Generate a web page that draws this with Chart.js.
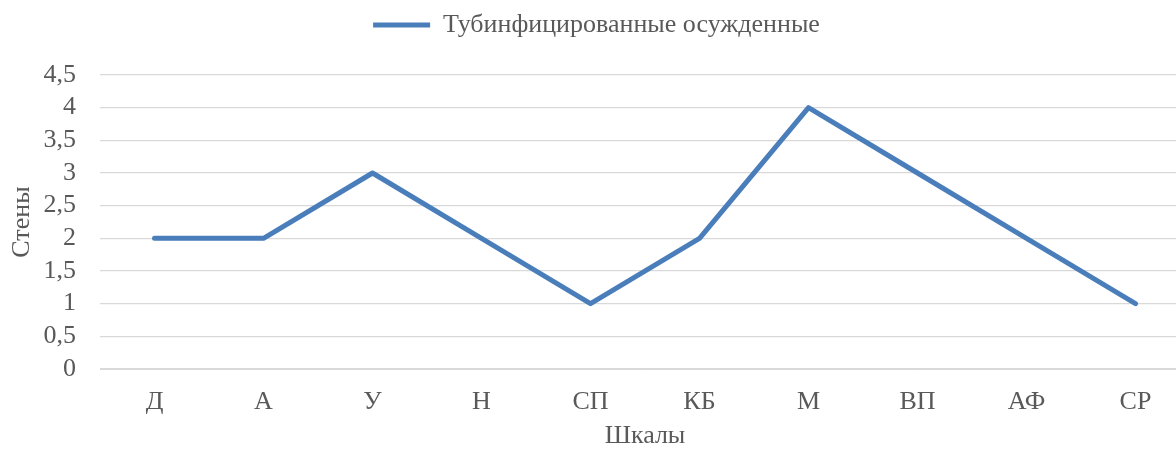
<!DOCTYPE html>
<html>
<head>
<meta charset="utf-8">
<script src="https://cdn.jsdelivr.net/npm/chart.js@4"></script>
<style>
  html, body { margin: 0; padding: 0; background: #fff; }
  #wrap { width: 1176px; height: 449px; overflow: hidden; }
  #box { width: 1196px; height: 449px; }
</style>
</head>
<body>
<div id="wrap"><div id="box"><canvas id="chart"></canvas></div></div>
<script>
// Данные графика
const categories = ['Д', 'А', 'У', 'Н', 'СП', 'КБ', 'М', 'ВП', 'АФ', 'СР'];
const seriesName = 'Тубинфицированные осужденные';
const seriesValues = [2, 2, 3, 2, 1, 2, 4, 3, 2, 1];
const yMax = 4.5;
const yStep = 0.5;

const font = 'Liberation Serif';
const textColor = '#595959';
const fontSize = 26;

// Немного больше места под легендой
const legendSpace = {
    id: 'legendSpace',
    beforeInit(chart) {
        const fit = chart.legend.fit;
        chart.legend.fit = function () {
            fit.call(this);
            this.height += 27;
        };
    }
};

const ctx = document.getElementById('chart').getContext('2d');
const chart = new Chart(ctx, {
    type: 'line',
    data: {
        labels: categories,
        datasets: [{
            label: seriesName,
            data: seriesValues,
            borderColor: '#4a7ebb',
            backgroundColor: '#4a7ebb',
            borderWidth: 5,
            borderCapStyle: 'round',
            borderJoinStyle: 'round',
            pointRadius: 0,
            tension: 0
        }]
    },
    options: {
        responsive: true,
        maintainAspectRatio: false,
        animation: false,
        layout: { padding: { top: 0, left: 3, right: 6, bottom: 0 } },
        plugins: {
            legend: {
                position: 'top',
                labels: {
                    usePointStyle: true,
                    pointStyle: 'line',
                    pointStyleWidth: 57,
                    color: textColor,
                    font: { family: font, size: fontSize, lineHeight: 1 },
                    padding: 12
                }
            },
            tooltip: { enabled: false }
        },
        scales: {
            x: {
                offset: true,
                grid: { display: false },
                border: { color: '#d9d9d9' },
                ticks: { color: textColor, font: { family: font, size: fontSize, lineHeight: 1 }, padding: 12 },
                title: {
                    display: true,
                    text: 'Шкалы',
                    color: textColor,
                    font: { family: font, size: fontSize, lineHeight: 1 },
                    padding: { top: 0, bottom: 0 }
                },
                afterFit: axis => { axis.height = 80; }
            },
            y: {
                min: 0,
                max: yMax,
                grid: { color: '#d9d9d9', lineWidth: 1.3, drawTicks: false },
                border: { display: false },
                ticks: {
                    stepSize: yStep,
                    autoSkip: false,
                    color: textColor,
                    font: { family: font, size: fontSize, lineHeight: 1 },
                    padding: 24,
                    callback: v => String(v).replace('.', ',')
                },
                title: {
                    display: true,
                    text: 'Стены',
                    color: textColor,
                    font: { family: font, size: fontSize },
                    padding: { bottom: 0 }
                },
                afterFit: axis => { axis.width = 97; }
            }
        }
    },
    plugins: [legendSpace]
});
</script>
</body>
</html>
